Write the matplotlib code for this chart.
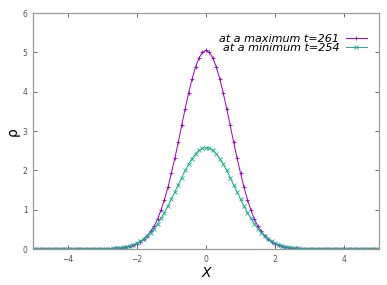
import numpy as np
import matplotlib
matplotlib.use("Agg")
import matplotlib.pyplot as plt

# Valores (passo 0.1 em x)
x = np.round(np.arange(-50, 51) / 10, 1)

rho_max = [
    0, 0, 0, 0, 0, 0, 0, 0, 0, 0,
    0, 0, 0, 0, 0.001, 0.001, 0.002, 0.002, 0.003, 0.004,
    0.005, 0.007, 0.010, 0.014, 0.019, 0.026, 0.036, 0.05, 0.07, 0.095,
    0.13, 0.18, 0.25, 0.34, 0.45, 0.58, 0.76, 0.99, 1.26, 1.57,
    1.93, 2.31, 2.72, 3.15, 3.57, 3.97, 4.33, 4.63, 4.86, 5.00,
    5.05,
    5.00, 4.86, 4.63, 4.33, 3.97, 3.57, 3.15, 2.72, 2.31, 1.93,
    1.57, 1.26, 0.99, 0.76, 0.58, 0.45, 0.34, 0.25, 0.18, 0.13,
    0.095, 0.07, 0.05, 0.036, 0.026, 0.019, 0.014, 0.010, 0.007, 0.005,
    0.004, 0.003, 0.002, 0.002, 0.001, 0.001, 0, 0, 0, 0,
    0, 0, 0, 0, 0, 0, 0, 0, 0, 0,
]

rho_min = [
    0, 0, 0, 0, 0, 0, 0, 0, 0, 0,
    0, 0, 0, 0, 0, 0.001, 0.0015, 0.002, 0.003, 0.004,
    0.006, 0.008, 0.011, 0.016, 0.022, 0.031, 0.044, 0.061, 0.084, 0.113,
    0.15, 0.20, 0.26, 0.33, 0.42, 0.52, 0.64, 0.78, 0.93, 1.09,
    1.27, 1.45, 1.64, 1.82, 2.00, 2.16, 2.30, 2.42, 2.51, 2.56,
    2.58,
    2.56, 2.51, 2.42, 2.30, 2.16, 2.00, 1.82, 1.64, 1.45, 1.27,
    1.09, 0.93, 0.78, 0.64, 0.52, 0.42, 0.33, 0.26, 0.20, 0.15,
    0.113, 0.084, 0.061, 0.044, 0.031, 0.022, 0.016, 0.011, 0.008, 0.006,
    0.004, 0.003, 0.002, 0.0015, 0.001, 0, 0, 0, 0, 0,
    0, 0, 0, 0, 0, 0, 0, 0, 0, 0,
]

rotulos = ["at a maximum t=261", "at a minimum t=254"]

fig = plt.figure(figsize=(3.87, 2.85), dpi=100)
ax = fig.add_axes([0.0853, 0.126, 0.8937, 0.828])

ax.plot(x, rho_max, color="#9400d3", lw=0.7, marker="+", ms=3.5, mew=0.6, label=rotulos[0])
ax.plot(x, rho_min, color="#1aaf8a", lw=0.7, marker="x", ms=2.8, mew=0.6, label=rotulos[1])

ax.set_xlim(-5, 5)
ax.set_ylim(0, 6)
ax.set_xticks([-4, -2, 0, 2, 4])
ax.set_yticks([0, 1, 2, 3, 4, 5, 6])
ax.tick_params(direction="in", length=3, width=0.6, labelsize=5.5, colors="#555555",
               top=True, right=True, pad=4)
for s in ax.spines.values():
    s.set_color("#999999")
    s.set_linewidth(0.9)

ax.set_xlabel("X", fontsize=10, style="italic", labelpad=2)
ax.set_ylabel("ρ", fontsize=10, labelpad=2)

leg = ax.legend(loc="upper right", bbox_to_anchor=(0.985, 0.94), frameon=False,
                markerfirst=False, fontsize=8, handlelength=1.9, handletextpad=0.6,
                labelspacing=-0.05, borderpad=0.1)
for t in leg.get_texts():
    t.set_fontstyle("italic")

fig.savefig("out.png", dpi=100)
